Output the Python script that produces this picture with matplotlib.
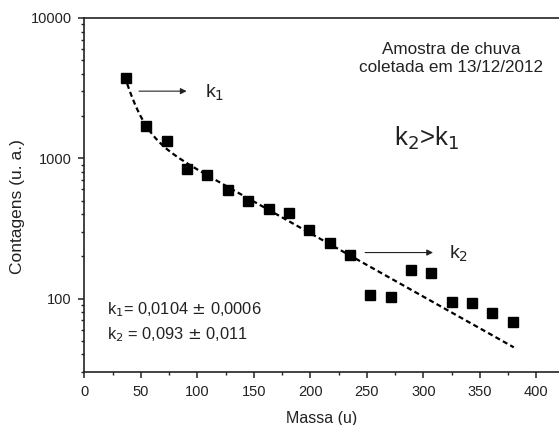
import numpy as np
import matplotlib.pyplot as plt
from matplotlib.ticker import FixedLocator, LogLocator, NullFormatter, MultipleLocator

plt.rcParams['font.family'] = ['Liberation Sans', 'DejaVu Sans']

# water cluster masses and counts
massa = [37, 55, 73, 91, 109, 127, 145, 163, 181, 199,
         217, 235, 253, 271, 289, 307, 325, 343, 361, 379]
contagens = [3720, 1690, 1320, 835, 757, 590, 500, 432, 405, 306,
             251, 203, 107, 103, 160, 152, 95, 93, 79, 68]

# two-exponential fit
k1 = 0.0104
k2 = 0.093
amp1 = 2340
amp2 = 62000
fit_range = (38, 380)

fig = plt.figure(figsize=(5.59, 4.25), dpi=100)
ax = fig.add_axes([0.1508, 0.1247, 0.8492, 0.833])

x_fit = np.linspace(fit_range[0], fit_range[1], 300)
y_fit = amp1 * np.exp(-k1 * x_fit) + amp2 * np.exp(-k2 * x_fit)
ax.plot(x_fit, y_fit, color='black', lw=1.6, dashes=(2.3, 1.5))
ax.plot(massa, contagens, 's', color='black', ms=6.5, ls='none')

ax.set_yscale('log')
ax.set_xlim(0, 420)
ax.set_ylim(30, 10000)

ax.yaxis.set_major_locator(FixedLocator([100, 1000, 10000]))
ax.set_yticklabels(['100', '1000', '10000'])
ax.yaxis.set_minor_locator(LogLocator(base=10, subs=np.arange(2, 10)))
ax.yaxis.set_minor_formatter(NullFormatter())
ax.xaxis.set_major_locator(MultipleLocator(50))
ax.xaxis.set_minor_locator(MultipleLocator(25))

ax.spines['right'].set_visible(False)
for s in ['left', 'bottom', 'top']:
    ax.spines[s].set_linewidth(1.2)
    ax.spines[s].set_color('#222222')
ax.tick_params(which='major', direction='out', length=4, width=1.1,
               labelsize=10.5, colors='#222222')
ax.tick_params(axis='y', which='major', pad=5)
ax.tick_params(axis='x', which='major', pad=5)
ax.tick_params(which='minor', direction='out', length=2.5, width=1.0,
               colors='#222222')

ax.set_xlabel('Massa (u)', fontsize=11.5, color='#222222', labelpad=9)
ax.set_ylabel('Contagens (u. a.)', fontsize=12.5, color='#222222')
ax.yaxis.set_label_coords(-0.125, 0.466)

ax.text(0.773, 0.885, 'Amostra de chuva\ncoletada em 13/12/2012', transform=ax.transAxes,
        ha='center', va='center', fontsize=12.3, color='#222222', linespacing=1.3)
ax.text(0.722, 0.66, r'k$_2$>k$_1$', transform=ax.transAxes, ha='center', va='center',
        fontsize=18.5, color='#222222')

ax.annotate('', xy=(93, 3010), xytext=(46, 3010),
            arrowprops=dict(arrowstyle='-|>', color='#222222', lw=0.8,
                            mutation_scale=9))
ax.text(107, 2950, r'k$_1$', ha='left', va='center', fontsize=14, color='#222222')
ax.annotate('', xy=(311, 213), xytext=(246, 213),
            arrowprops=dict(arrowstyle='-|>', color='#222222', lw=0.8,
                            mutation_scale=9))
ax.text(323, 208, r'k$_2$', ha='left', va='center', fontsize=14, color='#222222')

ax.text(20, 84, r'k$_1$= 0,0104 $\pm$ 0,0006', fontsize=11.8, color='#222222', va='center')
ax.text(20, 55, r'k$_2$ = 0,093 $\pm$ 0,011', fontsize=11.8, color='#222222', va='center')

fig.savefig('out.png', dpi=100)
